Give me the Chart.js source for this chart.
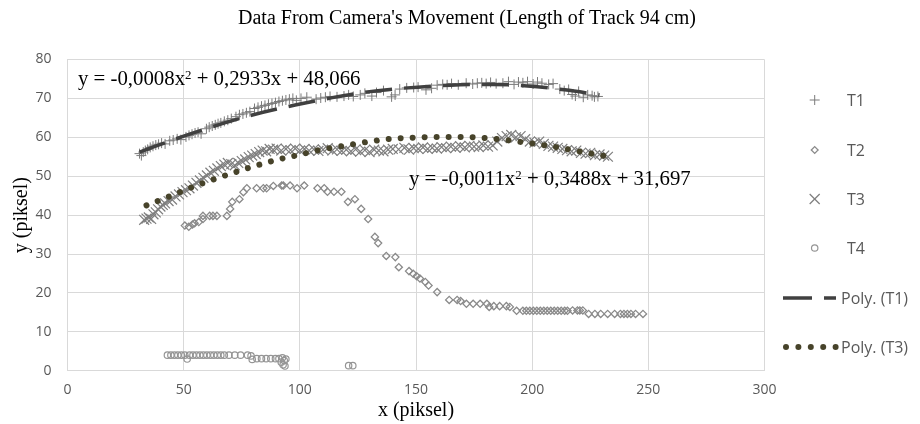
<!DOCTYPE html>
<html><head><meta charset="utf-8">
<script src="https://cdn.jsdelivr.net/npm/chart.js@4.4.1/dist/chart.umd.min.js"></script>
<style>
html,body{margin:0;padding:0;background:#fff;}
#wrap{position:relative;width:920px;height:424px;overflow:hidden;background:#fff;}
#c{position:absolute;left:0;top:0;width:920px;height:424px;}
.t{position:absolute;white-space:nowrap;font-family:"Liberation Serif","Times New Roman",serif;color:#000;}
#title{font-size:20px;line-height:24px;left:0;width:934px;text-align:center;top:5px;}
.eq{font-size:20.8px;line-height:24px;}
.eq sup{font-size:0.62em;vertical-align:0.5em;line-height:0;}
.lgt{position:absolute;font-family:"Open Sans",sans-serif;font-size:16px;line-height:18px;color:#595959;white-space:nowrap;}
svg.lgm{position:absolute;left:0;top:0;overflow:visible;}
</style></head>
<body><div id="wrap">
<canvas id="c" width="920" height="424"></canvas>
<div id="title" class="t">Data From Camera's Movement (Length of Track 94 cm)</div>
<div class="t eq" style="left:78px;top:66px">y = -0,0008x<sup>2</sup> + 0,2933x + 48,066</div>
<div class="t eq" style="left:409px;top:166px">y = -0,0011x<sup>2</sup> + 0,3488x + 31,697</div>
<div id="legend"></div>
</div>
<script>
const xTickValues = [0, 50, 100, 150, 200, 250, 300];
const yTickValues = [0, 10, 20, 30, 40, 50, 60, 70, 80];
const seriesNames = ['T1', 'T2', 'T3', 'T4', 'Poly. (T1)', 'Poly. (T3)'];

const t1X = [31.0,31.8,32.6,33.5,34.5,35.6,36.8,38.0,39.2,40.5,42.0,44.0,45.5,47.2,48.8,51.0,52.3,53.6,54.9,56.2,57.5,59.8,61.0,62.3,63.6,64.8,66.0,67.5,69.0,70.5,72.5,74.0,75.5,77.0,78.5,80.5,82.0,83.5,85.0,86.5,88.0,89.5,91.0,92.5,94.0,95.5,97.0,98.5,100.5,103.0,107.0,109.0,111.0,113.0,116.0,119.0,121.0,123.0,126.0,128.0,131.0,133.0,136.0,139.5,141.0,143.0,146.0,149.0,150.9,154.3,156.7,159.1,161.5,163.4,165.3,168.2,171.6,174.4,176.4,178.3,180.2,182.1,184.5,187.4,189.8,192.2,194.1,196.0,198.0,200.4,202.3,204.2,207.1,209.0,211.9,213.8,215.7,217.2,218.6,220.0,222.0,223.9,225.8,226.8,228.3];
const t1Y = [55.8,55.3,56.2,56.6,56.9,57.4,57.7,58.0,58.2,58.5,58.3,59.1,59.3,59.6,59.4,60.1,60.5,60.8,61.1,61.3,60.9,62.2,62.6,62.9,63.2,63.5,63.7,64.1,64.4,64.8,65.3,65.8,66.0,66.3,66.6,67.4,67.7,68.0,68.2,68.5,68.7,68.9,69.2,69.4,69.6,69.8,70.0,69.5,70.0,70.3,69.8,70.1,70.3,70.5,70.4,70.6,70.9,70.5,70.9,71.3,70.6,71.5,72.0,70.4,70.9,72.4,72.7,72.8,72.9,72.2,72.6,73.4,73.6,73.5,73.8,73.5,73.9,73.7,73.9,74.0,73.8,74.1,73.8,73.9,74.3,73.6,74.2,74.0,74.3,73.7,74.2,73.9,73.6,73.8,72.4,72.0,72.3,71.0,70.6,71.8,70.3,70.9,70.7,70.4,70.5];

const t2X = [50.5,52.2,53.8,54.7,56.5,58.3,58.3,61.2,62.6,64.3,68.6,70.0,70.9,74.0,75.7,77.2,81.4,84.3,85.7,88.6,92.2,92.9,95.8,98.8,101.9,107.6,110.5,111.9,114.7,117.9,120.7,123.7,126.4,129.4,132.3,133.7,137.2,141.1,142.6,147.0,148.8,150.3,151.7,154.0,155.4,159.1,164.3,167.7,169.2,171.7,174.6,177.6,180.5,181.5,183.5,186.0,188.9,190.4,193.3,196.0,197.5,199.0,200.5,202.0,203.5,205.0,206.5,208.0,209.5,211.0,212.5,214.0,215.2,217.4,219.5,220.5,221.8,224.3,227.0,229.5,232.5,235.5,238.0,239.5,241.0,242.5,244.5,247.7];
const t2Y = [37.3,37.0,37.6,37.9,38.2,39.0,39.8,39.8,39.8,39.8,39.8,41.6,43.4,44.1,45.9,46.9,46.9,46.9,46.9,47.5,47.6,47.6,47.6,46.9,47.6,46.9,46.9,46.0,46.0,46.0,43.4,44.1,41.6,39.0,34.4,32.8,29.5,29.2,26.6,25.6,24.9,24.3,23.7,22.8,21.9,20.2,18.2,18.2,17.9,17.2,17.2,17.2,17.2,16.4,16.6,16.6,16.6,16.4,15.4,15.4,15.4,15.4,15.4,15.4,15.4,15.4,15.4,15.4,15.4,15.4,15.4,15.4,15.4,15.5,15.5,15.5,15.5,14.6,14.6,14.6,14.6,14.6,14.6,14.6,14.6,14.6,14.6,14.6];

const t3X = [33.0,34.0,35.0,36.0,37.0,38.0,39.0,40.0,41.0,42.0,43.5,45.0,46.5,48.0,49.5,51.0,52.5,54.0,55.5,57.0,58.5,60.0,61.5,63.0,64.5,66.0,67.5,69.0,70.5,72.0,73.5,75.0,76.5,78.0,79.5,81.0,82.5,84.0,85.5,87.0,88.5,90.0,92.0,94.0,96.0,98.0,100.0,102.0,104.0,106.0,108.0,110.0,112.0,114.0,116.0,118.0,120.0,122.0,124.0,126.0,128.0,130.0,132.0,134.0,136.0,138.0,140.0,142.5,145.0,147.0,149.0,151.0,153.0,155.0,157.0,159.0,161.0,163.0,165.0,167.0,169.0,171.0,173.0,175.0,177.0,179.0,181.0,183.0,185.0,187.0,189.0,191.0,193.0,195.0,197.0,199.0,201.0,203.0,205.0,207.0,209.0,211.0,213.0,215.0,217.0,219.0,221.0,223.0,225.0,227.0,229.0,231.0,232.6];
const t3Y = [38.8,39.1,39.4,39.0,40.2,40.7,41.5,42.2,42.6,43.0,43.6,44.0,44.8,45.3,45.9,46.4,46.9,47.6,48.3,48.9,49.6,50.2,50.9,51.4,52.0,52.6,53.0,53.4,53.1,52.8,53.4,53.9,54.3,54.9,55.3,55.7,56.2,56.6,56.4,57.0,56.8,57.1,56.6,57.0,56.7,57.1,56.6,57.0,56.6,56.9,56.5,56.8,57.2,56.6,56.9,56.5,56.8,56.4,56.9,56.3,56.7,56.2,56.8,56.6,56.4,56.8,57.0,56.9,57.3,56.8,57.2,57.0,57.4,57.0,57.3,57.1,57.5,57.2,57.6,57.3,57.7,57.4,57.8,57.6,57.5,57.9,57.6,57.9,58.9,59.8,60.3,60.6,60.0,60.3,59.5,58.9,58.6,58.9,58.3,57.8,57.6,57.3,57.0,56.7,56.4,56.6,56.0,55.8,56.0,55.4,55.6,55.3,55.0];

const t4X = [43.0,44.5,46.0,47.5,49.0,50.5,51.5,52.5,54.0,55.5,57.0,58.5,60.0,61.5,63.0,64.5,66.0,67.5,69.5,72.0,74.5,77.5,79.0,79.5,81.5,83.5,85.5,87.5,89.5,91.0,92.0,92.5,92.8,93.3,93.6,94.0,121.0,122.8];
const t4Y = [4.0,4.0,4.0,4.0,4.0,4.0,3.0,4.0,4.0,4.0,4.0,4.0,4.0,4.0,4.0,4.0,4.0,4.0,4.0,4.0,4.0,4.0,3.8,2.9,3.1,3.1,3.1,3.1,3.1,3.1,2.2,3.3,1.5,2.6,1.2,3.0,1.3,1.3];

const poly1X = [31, 50, 65, 80, 98, 114, 128, 144, 165, 183, 198, 214, 229];
const poly1Y = [56.2, 60.3, 63.2, 65.8, 68.3, 70.2, 71.6, 72.6, 73.4, 73.6, 73.2, 72.2, 70.9];
const poly3X = [34, 43, 52, 61, 70, 80, 90, 99, 109, 119, 129, 139, 149, 159, 170, 180, 190, 200, 210, 220, 231];
const poly3Y = [42.5, 44.6, 46.8, 48.8, 50.6, 52.5, 54.2, 55.4, 56.8, 57.8, 58.8, 59.6, 59.9, 60.1, 60.1, 59.8, 59.2, 58.4, 57.5, 56.4, 55.2];

const pts = (xs, ys) => xs.map((x, i) => ({x: x, y: ys[i]}));

const DOTCOL = '#47432a';
const datasets = [
  {label: seriesNames[4], type: 'line', showLine: true, data: pts(poly1X, poly1Y), borderColor: '#404040', borderWidth: 3.5, borderDash: [27, 12], pointRadius: 0, cubicInterpolationMode: 'monotone', fill: false, order: 0},
  {label: seriesNames[5], type: 'line', showLine: true, data: pts(poly3X, poly3Y), borderColor: DOTCOL, borderWidth: 6, borderDash: [0.001, 12], borderCapStyle: 'round', pointRadius: 0, cubicInterpolationMode: 'monotone', fill: false, order: 0},
  {label: seriesNames[0], data: pts(t1X, t1Y), pointStyle: 'cross', pointRadius: 5, borderColor: '#7a7a7a', backgroundColor: 'rgba(0,0,0,0)', borderWidth: 1, order: 1},
  {label: seriesNames[1], data: pts(t2X, t2Y), pointStyle: 'rectRot', pointRadius: 3.6, borderColor: '#8a8a8a', backgroundColor: 'rgba(0,0,0,0)', borderWidth: 1.3, order: 1},
  {label: seriesNames[2], data: pts(t3X, t3Y), pointStyle: 'crossRot', pointRadius: 7, borderColor: '#7f7f7f', backgroundColor: 'rgba(0,0,0,0)', borderWidth: 1.2, order: 1},
  {label: seriesNames[3], data: pts(t4X, t4Y), pointStyle: 'circle', pointRadius: 3.2, borderColor: '#959595', backgroundColor: 'rgba(0,0,0,0)', borderWidth: 1.2, order: 1}
];

const tickFont = {family: "'Open Sans', sans-serif", size: 14};
const titleFont = {family: "'Liberation Serif', 'Times New Roman', serif", size: 20};

new Chart(document.getElementById('c'), {
  type: 'scatter',
  data: {datasets: datasets},
  options: {
    responsive: false, animation: false, devicePixelRatio: 1,
    layout: {padding: {left: 9.5, right: 155.5, top: 59.5, bottom: 1}},
    plugins: {legend: {display: false}, title: {display: false}, tooltip: {enabled: false}},
    scales: {
      x: {
        type: 'linear', position: 'bottom', min: 0, max: 300,
        afterBuildTicks: s => { s.ticks = xTickValues.map(v => ({value: v})); },
        afterFit: s => { s.height = 52.3; },
        grid: {color: '#d9d9d9', lineWidth: 1, drawTicks: false},
        border: {color: '#d9d9d9'},
        ticks: {padding: 11, color: '#595959', font: tickFont, maxRotation: 0},
        title: {display: true, text: 'x (piksel)', color: '#000', font: titleFont, padding: {top: 0, bottom: 0}}
      },
      y: {
        type: 'linear', position: 'left', min: 0, max: 80,
        afterBuildTicks: s => { s.ticks = yTickValues.map(v => ({value: v})); },
        afterFit: s => { s.width = 58; },
        grid: {color: '#d9d9d9', lineWidth: 1, drawTicks: false},
        border: {color: '#d9d9d9'},
        ticks: {padding: 16, color: '#595959', font: tickFont},
        title: {display: true, text: 'y (piksel)', color: '#000', font: titleFont, padding: {top: 0, bottom: 2}}
      }
    }
  }
});

// HTML legend
const legendRows = [100, 150, 199, 248, 298, 347];
const NS = 'http://www.w3.org/2000/svg';
const lg = document.getElementById('legend');
function svgEl(tag, attrs, parent) {
  const e = document.createElementNS(NS, tag);
  for (const k in attrs) e.setAttribute(k, attrs[k]);
  parent.appendChild(e); return e;
}
const svg = svgEl('svg', {class: 'lgm', width: 920, height: 424}, lg);
const mx = 814.7;
seriesNames.forEach((name, i) => {
  const y = legendRows[i];
  if (i === 0) {
    svgEl('line', {x1: mx - 5, y1: y, x2: mx + 5, y2: y, stroke: '#7a7a7a', 'stroke-width': 1}, svg);
    svgEl('line', {x1: mx, y1: y - 5, x2: mx, y2: y + 5, stroke: '#7a7a7a', 'stroke-width': 1}, svg);
  } else if (i === 1) {
    svgEl('polygon', {points: `${mx},${y-3.4} ${mx+3.4},${y} ${mx},${y+3.4} ${mx-3.4},${y}`, fill: 'none', stroke: '#8a8a8a', 'stroke-width': 1.3}, svg);
  } else if (i === 2) {
    svgEl('line', {x1: mx - 5, y1: y - 5, x2: mx + 5, y2: y + 5, stroke: '#7f7f7f', 'stroke-width': 1.2}, svg);
    svgEl('line', {x1: mx - 5, y1: y + 5, x2: mx + 5, y2: y - 5, stroke: '#7f7f7f', 'stroke-width': 1.2}, svg);
  } else if (i === 3) {
    svgEl('circle', {cx: mx, cy: y, r: 3.2, fill: 'none', stroke: '#959595', 'stroke-width': 1.2}, svg);
  } else if (i === 4) {
    svgEl('line', {x1: 783, y1: y, x2: 836, y2: y, stroke: '#404040', 'stroke-width': 3.5, 'stroke-dasharray': '29 12'}, svg);
  } else {
    for (let k = 0; k < 5; k++) svgEl('circle', {cx: 786 + k * 12.4, cy: y, r: 3, fill: DOTCOL}, svg);
  }
  const d = document.createElement('div');
  d.className = 'lgt';
  d.textContent = name;
  d.style.left = (i < 4 ? 847 : 841) + 'px';
  d.style.top = (y - 9.5) + 'px';
  lg.appendChild(d);
});
</script>
</body></html>
